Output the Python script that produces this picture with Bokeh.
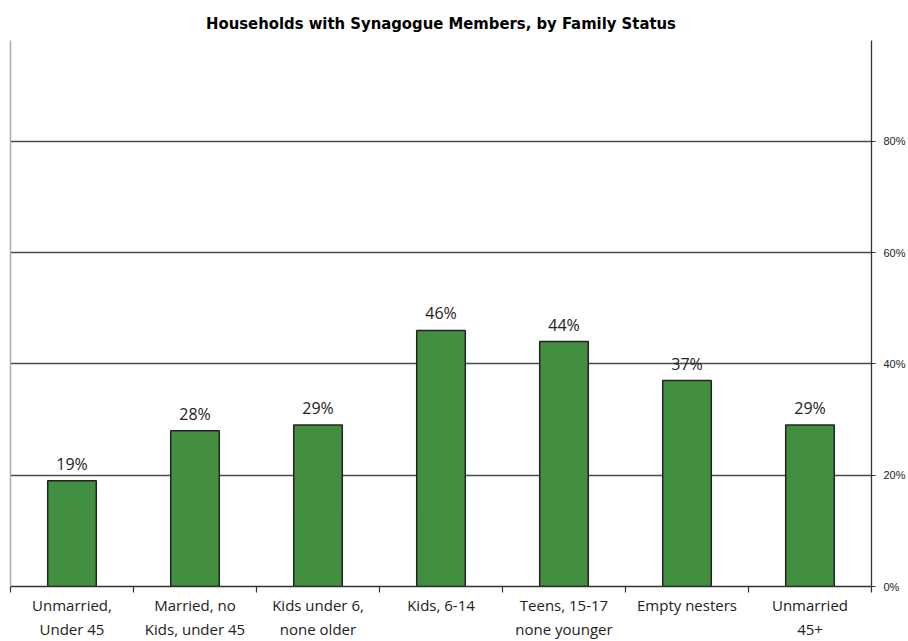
from bokeh.plotting import figure
from bokeh.models import FixedTicker, LinearAxis, PrintfTickFormatter, Range1d, ColumnDataSource
from bokeh.core.properties import value
from bokeh.embed import file_html
from bokeh.resources import INLINE

# ---- data ----
categories = [
    "Unmarried,\nUnder 45",
    "Married, no\nKids, under 45",
    "Kids under 6,\nnone older",
    "Kids, 6-14",
    "Teens, 15-17\nnone younger",
    "Empty nesters",
    "Unmarried\n45+",
]
values = [19, 28, 29, 46, 44, 37, 29]
value_labels = ["19%", "28%", "29%", "46%", "44%", "37%", "29%"]
y_ticks = [0, 20, 40, 60, 80]
title_text = "Households with Synagogue Members, by Family Status"

n = len(categories)
xs = [i + 0.5 for i in range(n)]
src = ColumnDataSource(dict(x=xs, top=values, lab=value_labels))

LABEL_FONT = "Open Sans"

p = figure(
    width=908, height=641,
    x_range=Range1d(0, n), y_range=Range1d(0, 98.1),
    y_axis_location="right",
    output_backend="svg", toolbar_location=None,
    min_border_left=10, min_border_right=37, min_border_top=40, min_border_bottom=54,
)
p.outline_line_color = None
p.background_fill_color = "white"
p.border_fill_color = "white"

# title
p.title.text = title_text
p.title.align = "center"
p.title.text_font = "DejaVu Sans Condensed"
p.title.text_font_style = "bold"
p.title.text_font_size = "16.5px"
p.title.text_color = "#000000"
p.title.standoff = 15

# grid
p.xgrid.visible = False
p.ygrid.ticker = FixedTicker(ticks=[t for t in y_ticks if t > 0])
p.ygrid.grid_line_color = "#4a4a4a"
p.ygrid.grid_line_width = 1.3

# bars
p.vbar(x="x", top="top", width=0.395, source=src,
       fill_color="#438F41", line_color="#222222", line_width=1.5)

# value labels
p.text(x="x", y="top", text="lab", source=src,
       text_align="center", text_baseline="bottom", y_offset=-6,
       text_font=value(LABEL_FONT), text_font_size="16px", text_color="#222222")

# x axis
xa = p.xaxis[0]
xa.ticker = FixedTicker(ticks=xs, minor_ticks=list(range(n + 1)))
xa.major_label_overrides = {x: c for x, c in zip(xs, categories)}
xa.major_tick_out = 0
xa.major_tick_in = 0
xa.minor_tick_out = 6
xa.minor_tick_in = 0
xa.minor_tick_line_color = "#333333"
xa.minor_tick_line_width = 1.2
xa.axis_line_color = "#333333"
xa.axis_line_width = 1.3
xa.major_label_text_font = LABEL_FONT
xa.major_label_text_font_size = "15px"
xa.major_label_text_color = "#222222"
xa.major_label_standoff = 2

# right y axis
ya = p.yaxis[0]
ya.ticker = FixedTicker(ticks=y_ticks)
ya.formatter = PrintfTickFormatter(format="%d%%")
ya.major_tick_out = 4
ya.major_tick_in = 0
ya.minor_tick_out = 0
ya.minor_tick_in = 0
ya.major_tick_line_color = "#333333"
ya.axis_line_color = "#333333"
ya.axis_line_width = 1.3
ya.major_label_text_font = "Liberation Sans"
ya.major_label_text_font_size = "11px"
ya.major_label_text_color = "#222222"
ya.major_label_standoff = 8

# left plain axis line
la = LinearAxis(ticker=FixedTicker(ticks=[]))
la.major_tick_out = 0
la.major_tick_in = 0
la.minor_tick_out = 0
la.minor_tick_in = 0
la.major_label_text_font_size = "0px"
la.axis_line_color = "#aaaaaa"
la.axis_line_width = 1.5
p.add_layout(la, "left")

open("out.html", "w").write(file_html(p, INLINE))
